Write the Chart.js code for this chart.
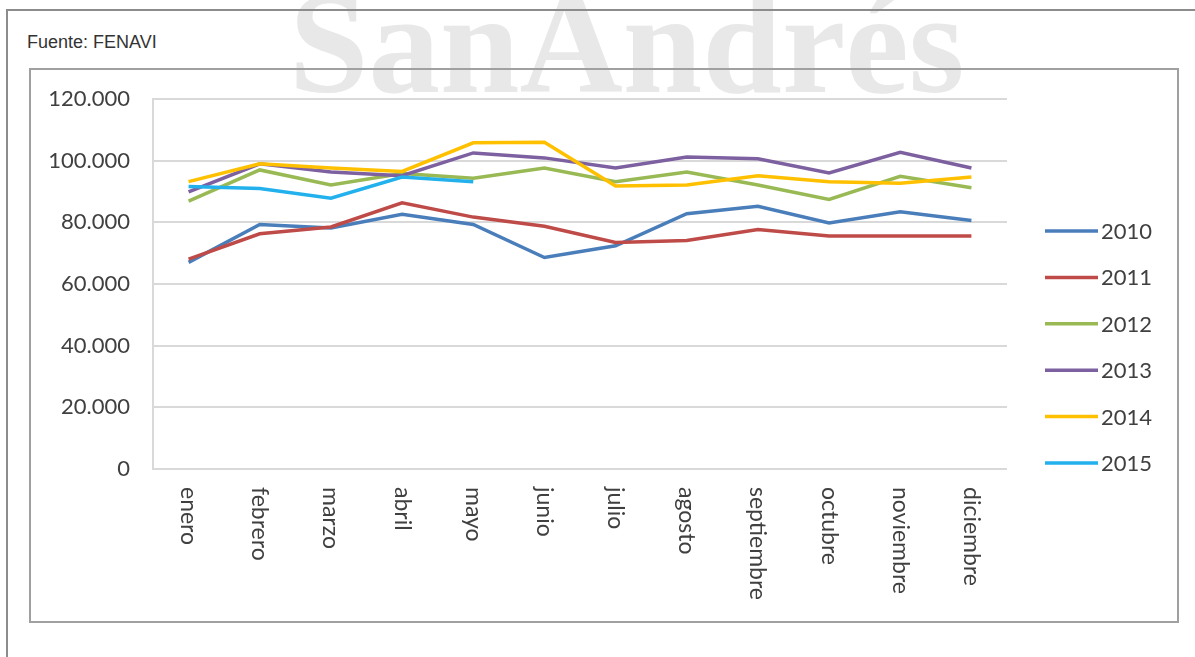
<!DOCTYPE html>
<html>
<head>
<meta charset="utf-8">
<script src="https://cdn.jsdelivr.net/npm/chart.js@4"></script>
<style>
    html, body { margin: 0; padding: 0; background: #fff; }
    body { width: 1195px; height: 657px; position: relative; overflow: hidden; }
    #watermark {
        position: absolute; left: 289px; top: -27px; z-index: 0;
        font-family: "Liberation Serif", serif; font-size: 143px; line-height: 143px;
        font-weight: bold; color: #e8e8e8; white-space: nowrap;
    }
    #outer {
        position: absolute; left: 6px; top: 9px; width: 1200px; height: 700px;
        border-left: 2px solid #8c8c8c; border-top: 2px solid #8c8c8c; z-index: 1;
    }
    #inner {
        position: absolute; left: 29px; top: 68px; width: 1146px; height: 551px;
        border: 2px solid #a0a0a0; z-index: 1;
    }
    #source {
        position: absolute; left: 27px; top: 32px; z-index: 1;
        font-family: "Liberation Sans", Arial, sans-serif; font-size: 18px; color: #333;
    }
    #chart { position: absolute; left: 0; top: 0; z-index: 2; }
</style>
</head>
<body>
<div id="watermark">SanAndrés</div>
<div id="outer"></div>
<div id="inner"></div>
<div id="source">Fuente: FENAVI</div>
<canvas id="chart" width="1195" height="657"></canvas>
<script>
const months = ['enero', 'febrero', 'marzo', 'abril', 'mayo', 'junio', 'julio', 'agosto', 'septiembre', 'octubre', 'noviembre', 'diciembre'];
const years = ['2010', '2011', '2012', '2013', '2014', '2015'];
const yTickLabels = ['0', '20.000', '40.000', '60.000', '80.000', '100.000', '120.000'];

const s2010 = [67000, 79300, 78200, 82600, 79300, 68600, 72400, 82800, 85200, 79800, 83400, 80600];
const s2011 = [68100, 76300, 78500, 86300, 81700, 78700, 73500, 74100, 77700, 75600, 75600, 75600];
const s2012 = [86900, 97000, 92100, 95800, 94300, 97600, 93200, 96300, 92100, 87400, 94900, 91200];
const s2013 = [89900, 99000, 96300, 95100, 102500, 100900, 97600, 101200, 100600, 96000, 102700, 97600];
const s2014 = [93200, 99000, 97600, 96500, 105800, 106000, 91800, 92100, 95100, 93200, 92700, 94700];
const s2015 = [91600, 91000, 87800, 94700, 93200, null, null, null, null, null, null, null];

const seriesData = [s2010, s2011, s2012, s2013, s2014, s2015];
const colors = ['#4a7ebb', '#be4b48', '#98b954', '#7d60a0', '#ffc000', '#22b1ec'];

const textColor = '#404040';
const fontFamily = 'Lato, "Open Sans", sans-serif';

// etiquetas del eje x giradas (se leen de arriba hacia abajo) y leyenda a la derecha
const extrasPlugin = {
    id: 'extras',
    afterDraw(chart) {
        const ctx = chart.ctx;
        const xScale = chart.scales.x;
        ctx.save();
        ctx.fillStyle = textColor;
        ctx.font = '23px ' + fontFamily;
        ctx.textAlign = 'left';
        ctx.textBaseline = 'middle';
        months.forEach((m, i) => {
            const x = xScale.getPixelForTick(i);
            ctx.save();
            ctx.translate(x, xScale.top + 18);
            ctx.rotate(Math.PI / 2);
            ctx.fillText(m, 0, 0);
            ctx.restore();
        });

        ctx.font = '22px ' + fontFamily;
        chart.data.datasets.forEach((ds, i) => {
            const y = 231 + i * 46.4;
            ctx.strokeStyle = ds.borderColor;
            ctx.lineWidth = 3.5;
            ctx.beginPath();
            ctx.moveTo(1045, y);
            ctx.lineTo(1098, y);
            ctx.stroke();
            ctx.fillStyle = textColor;
            ctx.fillText(ds.label, 1101, y + 1);
        });
        ctx.restore();
    }
};

new Chart(document.getElementById('chart'), {
    type: 'line',
    data: {
        labels: months,
        datasets: years.map((y, i) => ({
            label: y,
            data: seriesData[i],
            borderColor: colors[i],
            backgroundColor: colors[i],
            borderWidth: 3.5,
            pointRadius: 0,
            tension: 0,
            fill: false,
            spanGaps: false,
            order: years.length - i
        }))
    },
    options: {
        responsive: false,
        animation: false,
        devicePixelRatio: 1,
        layout: { padding: { left: 0, top: 99, right: 188, bottom: 0 } },
        plugins: {
            legend: { display: false },
            tooltip: { enabled: false }
        },
        scales: {
            x: {
                offset: true,
                grid: { display: false },
                border: { display: false },
                ticks: { display: false },
                afterFit(s) { s.height = 188; }
            },
            y: {
                min: 0,
                max: 120000,
                grid: { color: '#d9d9d9', lineWidth: 2, drawTicks: false },
                border: { color: '#d9d9d9', width: 2 },
                ticks: {
                    stepSize: 20000,
                    padding: 23,
                    color: textColor,
                    font: { family: fontFamily, size: 22 },
                    callback: (v) => yTickLabels[Math.round(v / 20000)]
                },
                afterFit(s) { s.width = 153; }
            }
        }
    },
    plugins: [extrasPlugin]
});
</script>
</body>
</html>
